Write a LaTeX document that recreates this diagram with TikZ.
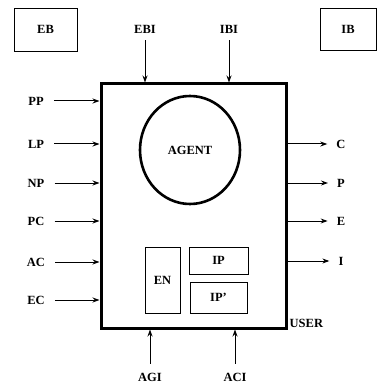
\documentclass[tikz,border=0pt]{standalone}
\usepackage{fontspec}
\setmainfont{Liberation Serif}
\usepackage{tikz}
\usetikzlibrary{arrows.meta,positioning,shapes.geometric,calc}
\tikzset{
  userbox/.style={
    rectangle, draw=black, line width=3pt,
    minimum width=185pt, minimum height=244pt, inner sep=0pt
  },
  agentshape/.style={
    ellipse, draw=black, line width=2.6pt,
    minimum width=100pt, minimum height=108pt, inner sep=0pt
  },
  partbox/.style={
    rectangle, draw=black, line width=0.9pt, inner sep=0pt
  },
  sigarrow/.style={
    -{Stealth[length=7pt,width=5pt]}, line width=1pt, color=black
  },
  labelnode/.style={
    font=\fontsize{12.5}{14}\selectfont\bfseries, inner sep=3pt
  },
}

\begin{document}
\begin{tikzpicture}[x=1pt,y=-1pt,font=\fontsize{12.5}{14}\selectfont\bfseries]
  \useasboundingbox (0,0) rectangle (377,387);

  % Buffers
  \node[partbox, minimum width=63pt, minimum height=43pt] (eb) at (45.5,29.5) {EB};
  \node[partbox, minimum width=56pt, minimum height=42pt] (ib) at (348,29) {IB};

  % User and agent
  \node[userbox] (user) at (193.5,206) {};
  \node[agentshape] (agent) at (190,150) {AGENT};
  \node[partbox, minimum width=35pt, minimum height=66pt] (en) at (162.5,280) {EN};
  \node[partbox, minimum width=59pt, minimum height=27pt] (ip) at (218.5,260.5) {IP};
  \node[partbox, minimum width=57pt, minimum height=31pt] (ipp) at (218.5,297.5) {IP'};
  \node[labelnode, anchor=south west, inner sep=2pt] (userlbl) at (user.south east) {USER};

  % Top inputs
  \node[labelnode] (ebi) at (145,29) {EBI};
  \node[labelnode] (ibi) at (229,29) {IBI};
  \draw[sigarrow, shorten <=4pt] (ebi) -- (ebi |- user.north);
  \draw[sigarrow, shorten <=4pt] (ibi) -- (ibi |- user.north);

  % Left inputs
  \foreach \name/\ypos in {PP/101, LP/144, NP/183, PC/221, AC/262, EC/300} {
    \node[labelnode] (in\name) at (36,\ypos) {\name};
    \draw[sigarrow, shorten <=7pt] (in\name) -- (in\name -| user.west);
  }

  % Right outputs
  \foreach \name/\ypos in {C/144, P/183, E/221, I/261} {
    \node[labelnode] (out\name) at (341,\ypos) {\name};
    \draw[sigarrow, shorten >=6pt] (out\name -| user.east) -- (out\name);
  }

  % Bottom inputs
  \node[labelnode] (agi) at (150,377) {AGI};
  \node[labelnode] (aci) at (235,377) {ACI};
  \draw[sigarrow, shorten <=6pt] (agi) -- (agi |- user.south);
  \draw[sigarrow, shorten <=6pt] (aci) -- (aci |- user.south);
\end{tikzpicture}
\end{document}
